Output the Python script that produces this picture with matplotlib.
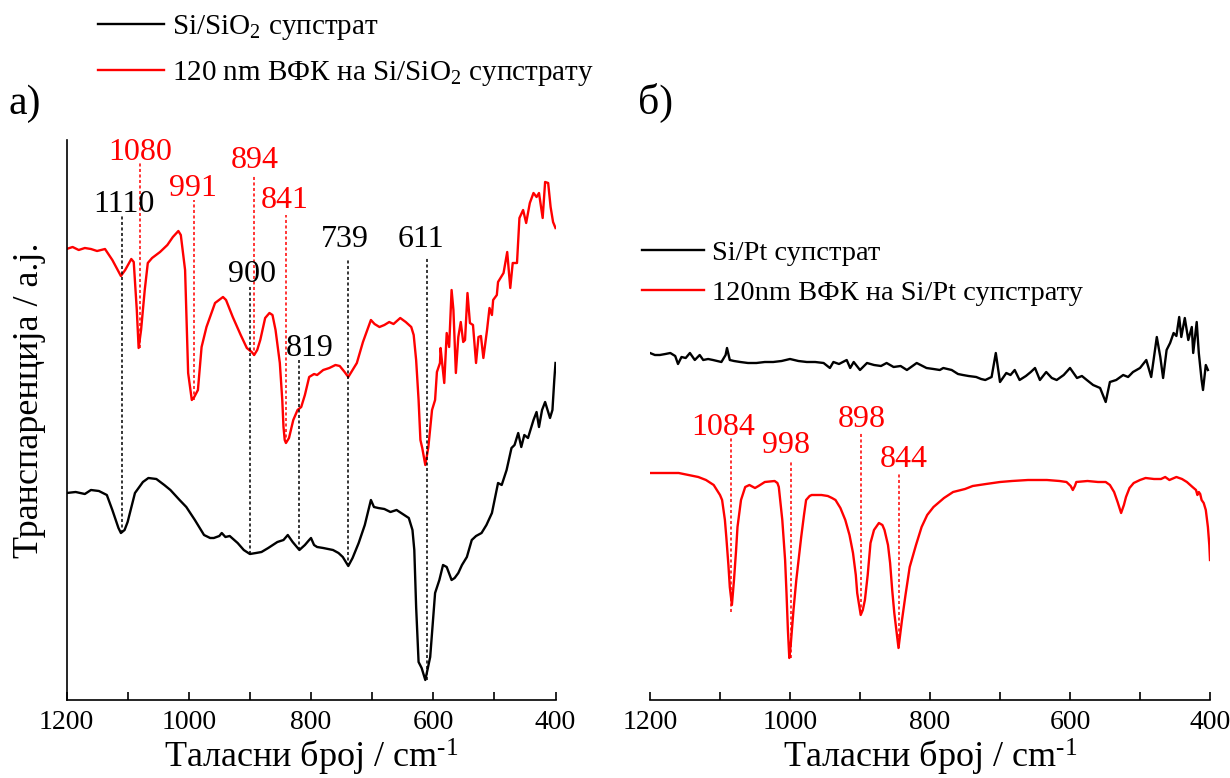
import numpy as np
import matplotlib.pyplot as plt

plt.rcParams['font.family'] = ['Liberation Serif', 'DejaVu Serif']
plt.rcParams['mathtext.fontset'] = 'custom'
plt.rcParams['mathtext.rm'] = 'Liberation Serif'
plt.rcParams['mathtext.it'] = 'Liberation Serif:italic'

# ---- panel a: Si/SiO2 ----
wn_a_black = [1200, 1185, 1170, 1160, 1147, 1134, 1125, 1115, 1111, 1105, 1100, 1088, 1075, 1066, 1053,
              1040, 1030, 1015, 1004, 990, 975, 965, 959, 950, 946, 940, 933, 920, 910, 900, 890, 881,
              870, 855, 845, 838, 830, 819, 810, 803, 800, 795, 790, 780, 764, 755, 748, 742, 739, 732,
              722, 712, 702, 697, 690, 680, 670, 660, 650, 640, 634, 631, 628, 624, 619, 613, 605, 597,
              590, 584, 578, 570, 565, 559, 553, 545, 537, 530, 521, 513, 504, 494, 488, 480, 472, 467,
              461, 456, 451, 445, 436, 431, 427, 422, 417, 413, 409, 405, 402, 400]
t_a_black = [207, 208, 206, 210, 209, 205, 190, 172, 167, 170, 178, 207, 218, 222, 221,
             215, 210, 200, 193, 180, 165, 162, 162, 164, 167, 163, 164, 157, 150, 146, 147, 148,
             152, 158, 160, 165, 158, 150, 155, 160, 162, 155, 153, 152, 150, 147, 143, 137, 134, 142,
             157, 175, 200, 193, 192, 191, 188, 190, 186, 182, 170, 150, 93, 38, 32, 20, 43, 107,
             120, 135, 133, 120, 122, 127, 135, 143, 160, 164, 167, 175, 187, 217, 215, 230, 252, 255,
             267, 253, 265, 262, 280, 288, 273, 290, 298, 290, 282, 290, 320, 337]

wn_a_red = [1200, 1190, 1180, 1170, 1160, 1150, 1137, 1125, 1111, 1104, 1094, 1090, 1085, 1082, 1078,
            1072, 1067, 1060, 1047, 1035, 1026, 1017, 1013, 1006, 1001, 995, 991, 985, 979, 971, 957,
            944, 939, 928, 915, 905, 897, 893, 888, 883, 875, 868, 863, 858, 851, 847, 845, 843, 841,
            836, 829, 822, 816, 810, 803, 795, 790, 780, 770, 760, 753, 745, 739, 730, 725, 715, 702,
            696, 688, 680, 672, 665, 654, 645, 636, 632, 628, 624, 621, 618, 613, 608, 602, 597, 594,
            589, 588, 582, 578, 574, 570, 567, 563, 559, 555, 551, 548, 544, 540, 535, 530, 526, 522,
            518, 512, 508, 504, 502, 496, 494, 485, 479, 474, 470, 463, 459, 453, 448, 442, 436, 431,
            427, 421, 417, 412, 408, 404, 400]
t_a_red = [451, 453, 450, 452, 451, 449, 451, 440, 424, 430, 441, 438, 390, 352, 370,
           410, 437, 442, 448, 455, 463, 469, 465, 430, 327, 300, 303, 310, 353, 373, 397,
           403, 400, 383, 365, 352, 348, 345, 350, 360, 382, 387, 385, 370, 337, 300, 273, 260, 257,
           262, 280, 290, 293, 305, 323, 326, 325, 330, 332, 335, 334, 328, 323, 332, 337, 358, 380,
           376, 373, 375, 378, 376, 382, 378, 373, 365, 340, 300, 260, 252, 235, 253, 290, 300, 328,
           337, 352, 317, 367, 353, 410, 390, 327, 363, 378, 358, 360, 407, 377, 375, 337, 363, 364,
           342, 370, 392, 385, 400, 405, 418, 427, 448, 412, 437, 437, 482, 490, 477, 497, 507, 503,
           507, 482, 518, 517, 493, 478, 472]

peaks_a_black = [1110, 900, 819, 739, 611]
peaks_a_black_lbl = ['1110', '900', '819', '739', '611']
peaks_a_red = [1080, 991, 894, 841]
peaks_a_red_lbl = ['1080', '991', '894', '841']

# ---- panel b: Si/Pt ----
wn_b_black = [1200, 1193, 1186, 1178, 1171, 1164, 1160, 1155, 1149, 1143, 1136, 1129, 1124, 1117, 1110,
              1098, 1092, 1090, 1086, 1080, 1071, 1060, 1048, 1036, 1024, 1012, 1000, 988, 976, 964,
              952, 943, 938, 930, 919, 914, 909, 900, 890, 880, 870, 862, 852, 842, 833, 819, 805,
              795, 786, 781, 769, 760, 753, 745, 734, 727, 721, 712, 706, 700, 691, 685, 679, 672,
              663, 656, 650, 643, 634, 626, 619, 609, 600, 590, 583, 576, 567, 557, 549, 543, 534,
              524, 517, 510, 500, 491, 484, 476, 471, 467, 462, 457, 452, 448, 444, 441, 436, 431,
              426, 424, 419, 416, 412, 410, 406, 403]
t_b_black = [347, 345, 345, 346, 347, 344, 336, 343, 342, 347, 340, 345, 340, 341, 340,
             338, 345, 352, 340, 339, 338, 337, 337, 338, 338, 339, 341, 339, 338, 338,
             337, 332, 338, 336, 340, 332, 338, 330, 337, 335, 334, 337, 333, 334, 330, 337, 332,
             331, 330, 332, 330, 326, 325, 324, 323, 321, 320, 323, 347, 318, 327, 325, 330, 320,
             324, 328, 332, 320, 328, 322, 320, 325, 332, 322, 324, 320, 315, 312, 298, 318, 320,
             325, 323, 328, 332, 340, 323, 363, 343, 322, 350, 357, 367, 364, 383, 363, 382, 360,
             373, 347, 378, 347, 320, 310, 335, 330]

wn_b_red = [1200, 1180, 1159, 1145, 1131, 1120, 1109, 1100, 1097, 1093, 1091, 1088, 1086, 1083, 1080,
            1077, 1075, 1070, 1064, 1058, 1050, 1045, 1036, 1022, 1018, 1016, 1011, 1007, 1005, 1003,
            1001, 999, 995, 991, 984, 980, 977, 972, 969, 955, 946, 940, 935, 928, 921, 915, 910,
            906, 904, 899, 896, 893, 889, 885, 880, 873, 868, 865, 860, 857, 854, 851, 845, 840,
            835, 829, 820, 812, 804, 795, 780, 767, 750, 739, 720, 700, 683, 660, 633, 615, 605,
            599, 596, 593, 591, 575, 560, 549, 543, 537, 532, 527, 523, 520, 515, 509, 500, 492,
            480, 470, 464, 458, 448, 440, 433, 425, 420, 418, 416, 414, 412, 409, 406, 403, 401, 400]
t_b_red = [227, 227, 227, 225, 223, 220, 215, 205, 200, 180, 163, 135, 113, 95, 120,
           150, 173, 200, 213, 215, 212, 214, 218, 219, 217, 213, 180, 140, 107, 70,
           42, 55, 90, 120, 163, 185, 200, 204, 205, 205, 204, 202, 200, 192, 180, 165, 147,
           125, 107, 85, 90, 100, 125, 157, 170, 177, 175, 170, 155, 137, 110, 87, 52, 80,
           105, 133, 155, 173, 185, 193, 202, 208, 211, 214, 216, 218, 219, 220, 220, 219, 218,
           214, 210, 214, 218, 219, 218, 218, 215, 208, 198, 187, 195, 203, 212, 217, 220, 222,
           221, 221, 223, 220, 223, 221, 218, 213, 210, 205, 208, 206, 200, 197, 190, 173, 155, 140]

peaks_b_red = [1084, 998, 898, 844]
peaks_b_red_lbl = ['1084', '998', '898', '844']

W, H = 1230, 778
fig = plt.figure(figsize=(W / 100, H / 100), dpi=100)
ax1 = fig.add_axes([66.5 / W, 78 / H, 489 / W, 560 / H])
ax2 = fig.add_axes([650 / W, 78 / H, 560 / W, 560 / H])

red = '#ff0000'
ax1.plot(wn_a_black, t_a_black, color='black', lw=1.7, label='Si/SiO$_2$ супстрат')
ax1.plot(wn_a_red, t_a_red, color=red, lw=1.7, label='120 nm ВФК на Si/SiO$_2$ супстрату')
ax2.plot(wn_b_black, t_b_black, color='black', lw=1.7, label='Si/Pt супстрат')
ax2.plot(wn_b_red, t_b_red, color=red, lw=1.7, label='120nm ВФК на Si/Pt супстрату')

dots = (0, (2, 1.6))
lab_fs = 23

# dotted guide lines: (line top, line bottom, label x, label baseline)
a_black_geom = [(485, 167, 1106, 488), (415, 146, 897, 418), (340, 150, 802, 344),
                (442, 134, 745, 453), (442, 20, 620, 453)]
for p, lbl, (top, bot, lx, ly) in zip(peaks_a_black, peaks_a_black_lbl, a_black_geom):
    ax1.plot([p, p], [bot, top], color='black', lw=1.1, ls=dots)
    ax1.text(lx, ly, lbl, ha='center', va='baseline', fontsize=lab_fs, color='black')

a_red_geom = [(537, 352, 1080, 540), (500, 300, 993, 504), (525, 344, 892, 532), (485, 257, 843, 492)]
for p, lbl, (top, bot, lx, ly) in zip(peaks_a_red, peaks_a_red_lbl, a_red_geom):
    ax1.plot([p, p], [bot, top], color=red, lw=1.1, ls=dots)
    ax1.text(lx, ly, lbl, ha='center', va='baseline', fontsize=lab_fs, color=red)

b_red_geom = [(263, 88, 1096, 265), (240, 42, 1005, 247), (267, 87, 897, 273), (227, 52, 837, 233)]
for p, lbl, (top, bot, lx, ly) in zip(peaks_b_red, peaks_b_red_lbl, b_red_geom):
    ax2.plot([p, p], [bot, top], color=red, lw=1.1, ls=dots)
    ax2.text(lx, ly, lbl, ha='center', va='baseline', fontsize=lab_fs, color=red)

for ax in (ax1, ax2):
    ax.set_xlim(1200, 400)
    ax.set_ylim(0, 560)
    ax.set_xticks([1200, 1000, 800, 600, 400])
    ax.set_xticks([1100, 900, 700, 500], minor=True)
    ax.set_yticks([])
    ax.tick_params(axis='x', which='both', direction='in', length=6, width=1.2,
                   labelsize=20, pad=7)
    ax.spines['top'].set_visible(False)
    ax.spines['right'].set_visible(False)
    ax.spines['bottom'].set_linewidth(1.2)
    ax.set_xlabel('Таласни број / cm$^{\\text{-1}}$', fontsize=26, labelpad=1.5)
    ax.patch.set_alpha(0)
ax1.spines['left'].set_linewidth(1.2)
ax2.spines['left'].set_visible(False)

fig.text(30 / W, 1 - 400 / H, 'Транспаренција / a.j.', rotation=90, ha='center', va='center', fontsize=26)
fig.text(9 / W, 1 - 114 / H, 'а)', fontsize=30)
fig.text(638 / W, 1 - 114 / H, 'б)', fontsize=30)

ax1.legend(loc='upper left', bbox_to_anchor=(98 / W, 1 - 13 / H), bbox_transform=fig.transFigure,
           frameon=False, fontsize=21, handlelength=2.27, handletextpad=0.28, labelspacing=0.6,
           borderpad=0, borderaxespad=0)
ax2.legend(loc='upper left', bbox_to_anchor=(642 / W, 1 - 240 / H), bbox_transform=fig.transFigure,
           frameon=False, fontsize=20.5, handlelength=2.18, handletextpad=0.28, labelspacing=0.5,
           borderpad=0, borderaxespad=0)

fig.savefig('out.png', dpi=100)
